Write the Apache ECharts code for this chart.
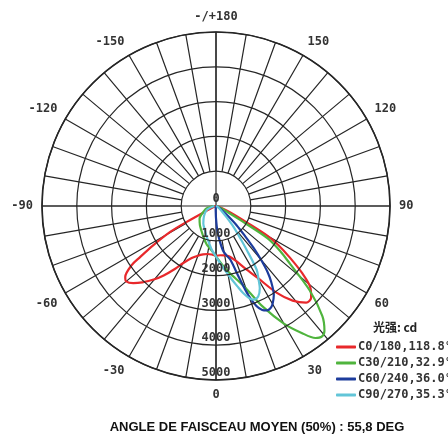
<!DOCTYPE html>
<html><head><meta charset="utf-8">
<script src="https://cdn.jsdelivr.net/npm/echarts@6/dist/echarts.min.js"></script>
<style>html,body{margin:0;padding:0;background:#fff}#c{width:448px;height:437px}</style>
</head><body><div id="c"></div>
<script>
// ---- data ----
const seriesNames = ['C0/180,118.8°', 'C30/210,32.9°', 'C60/240,36.0°', 'C90/270,35.3°'];
const radiusTicks = [0, 1000, 2000, 3000, 4000, 5000];
const angleLabelStep = 30;
const legendTitle = '光强: cd';
const footerText = 'ANGLE DE FAISCEAU MOYEN (50%) : 55,8 DEG';

// angles in degrees (0 = nadir, negative = left half), intensities in cd
const redAngles   = [-90,-75,-68,-64,-61.5,-60.5,-58,-56,-55,-52,-50,-47,-44,-40,-37,-33,-30,-25,-20,-15,-10,-5,0,5,10,15,20,25,30,35,39,43,46,49,52,55,58,60,62,66,70,75,80,90];
const redValues   = [0,0,60,200,1000,1500,2120,2650,2950,3310,3370,3250,3050,2750,2500,2150,1900,1650,1520,1440,1400,1400,1430,1420,1440,1500,1680,1980,2380,3050,3500,3800,3800,3600,3150,2600,2100,1700,1000,450,200,80,0,0];

const greenAngles = [-90,-76,-60,-52,-40,-31,-20,-13,-5,0,5,10,15,20,25,30,34,37,39,41,44,48,52,55,58,60,63,68,75,90];
const greenValues = [50,280,480,600,720,820,1000,1150,1300,1450,1650,1900,2150,2520,3200,3900,4400,4750,4830,4750,4400,3620,2700,2250,1750,800,300,80,0,0];

const blueAngles  = [-90,-30,-10,-3,0,3,6,9,12,15,18,20,22,24,26,28,30,33,36,38,40,42,44,47,50,55,60,70,90];
const blueValues  = [0,0,50,150,350,700,1000,1300,1450,1600,2200,2750,3100,3270,3340,3330,3250,3050,2700,2400,2000,1600,1200,800,450,200,70,0,0];

const cyanAngles  = [-90,-67,-50,-36,-25,-17,-10,-5,0,5,11,15,17.4,20,22,25,28,30,32.5,35,37,40,43,47,55,65,90];
const cyanValues  = [50,290,450,620,760,920,1100,1280,1450,1700,2070,2400,2630,2830,2900,2870,2680,2450,2180,1540,1150,775,450,250,100,30,0];

const colors = ['#e8282b', '#4fb43d', '#1d3c9c', '#62c5d8'];

// ---- build ----
function toPolar(angles, values) {
  return angles.map((a, i) => [values[i], (a + 360) % 360]);
}
const allData = [
  toPolar(redAngles, redValues),
  toPolar(greenAngles, greenValues),
  toPolar(blueAngles, blueValues),
  toPolar(cyanAngles, cyanValues)
];

const CX = 216, CY = 206, R = 174;
const gridColor = '#262626';
const labelFont = 'DejaVu Sans Mono';

const chart = echarts.init(document.getElementById('c'), null, {renderer: 'canvas'});
chart.setOption({
  animation: false,
  backgroundColor: '#fff',
  title: {
    text: legendTitle, left: 368, top: 316,
    textStyle: {fontFamily: 'Noto Sans CJK SC', fontWeight: 'bold', fontSize: 12, color: '#222'}
  },
  legend: {
    data: seriesNames,
    orient: 'vertical', left: 331, top: 336,
    icon: 'roundRect', itemWidth: 20, itemHeight: 3, itemGap: 4,
    textStyle: {fontFamily: labelFont, fontWeight: 'bold', fontSize: 12, color: '#333', lineHeight: 12, padding: [0,0,0,-3]}
  },
  polar: [
    {center: [CX, CY], radius: [R * radiusTicks[1] / radiusTicks[radiusTicks.length - 1], R]},
    {center: [CX, CY], radius: [0, R]}
  ],
  angleAxis: [
    {
      polarIndex: 0, type: 'value', min: 0, max: 360, interval: 10,
      startAngle: 270, clockwise: false,
      axisLine: {show: false}, axisTick: {show: false},
      splitLine: {show: true, lineStyle: {color: gridColor, width: 1.2}},
      axisLabel: {
        show: true, margin: 9, color: '#333',
        fontFamily: labelFont, fontWeight: 'bold', fontSize: 12,
        formatter: v => {
          if (v % angleLabelStep !== 0 || v === 360) return '';
          if (v === 180) return '-/+180';
          return String(v > 180 ? v - 360 : v);
        }
      }
    },
    {
      polarIndex: 1, type: 'value', min: 0, max: 360, interval: 90,
      startAngle: 270, clockwise: false,
      axisLine: {show: true, lineStyle: {color: gridColor, width: 1.6}},
      axisTick: {show: false}, axisLabel: {show: false},
      splitLine: {show: true, lineStyle: {color: gridColor, width: 1.2}}
    }
  ],
  radiusAxis: [
    {polarIndex: 0, show: false, min: 0, max: 5000},
    {
      polarIndex: 1, type: 'value', min: radiusTicks[0], max: radiusTicks[radiusTicks.length - 1], interval: 1000,
      axisLine: {show: false}, axisTick: {show: false},
      splitLine: {show: true, lineStyle: {color: gridColor, width: 1.2}},
      axisLabel: {
        show: true, margin: 0, rotate: 0, align: 'center', verticalAlign: 'bottom',
        padding: [0, 0, 1, 0],
        formatter: v => String(v),
        color: '#333', fontFamily: labelFont, fontWeight: 'bold', fontSize: 12
      },
      z: 5
    }
  ],
  series: allData.map((d, i) => ({
    name: seriesNames[i], type: 'line', coordinateSystem: 'polar', polarIndex: 1,
    data: d, showSymbol: false, symbol: 'none', smooth: 0.3,
    lineStyle: {color: colors[i], width: 2.2}, itemStyle: {color: colors[i]},
    z: 3
  })),
  graphic: [{
    type: 'text', x: 257, y: 427,
    style: {text: footerText, align: 'center', verticalAlign: 'middle',
      font: 'bold 13px "Liberation Sans", Arial, sans-serif', fill: '#111'}
  }]
});
</script></body></html>
